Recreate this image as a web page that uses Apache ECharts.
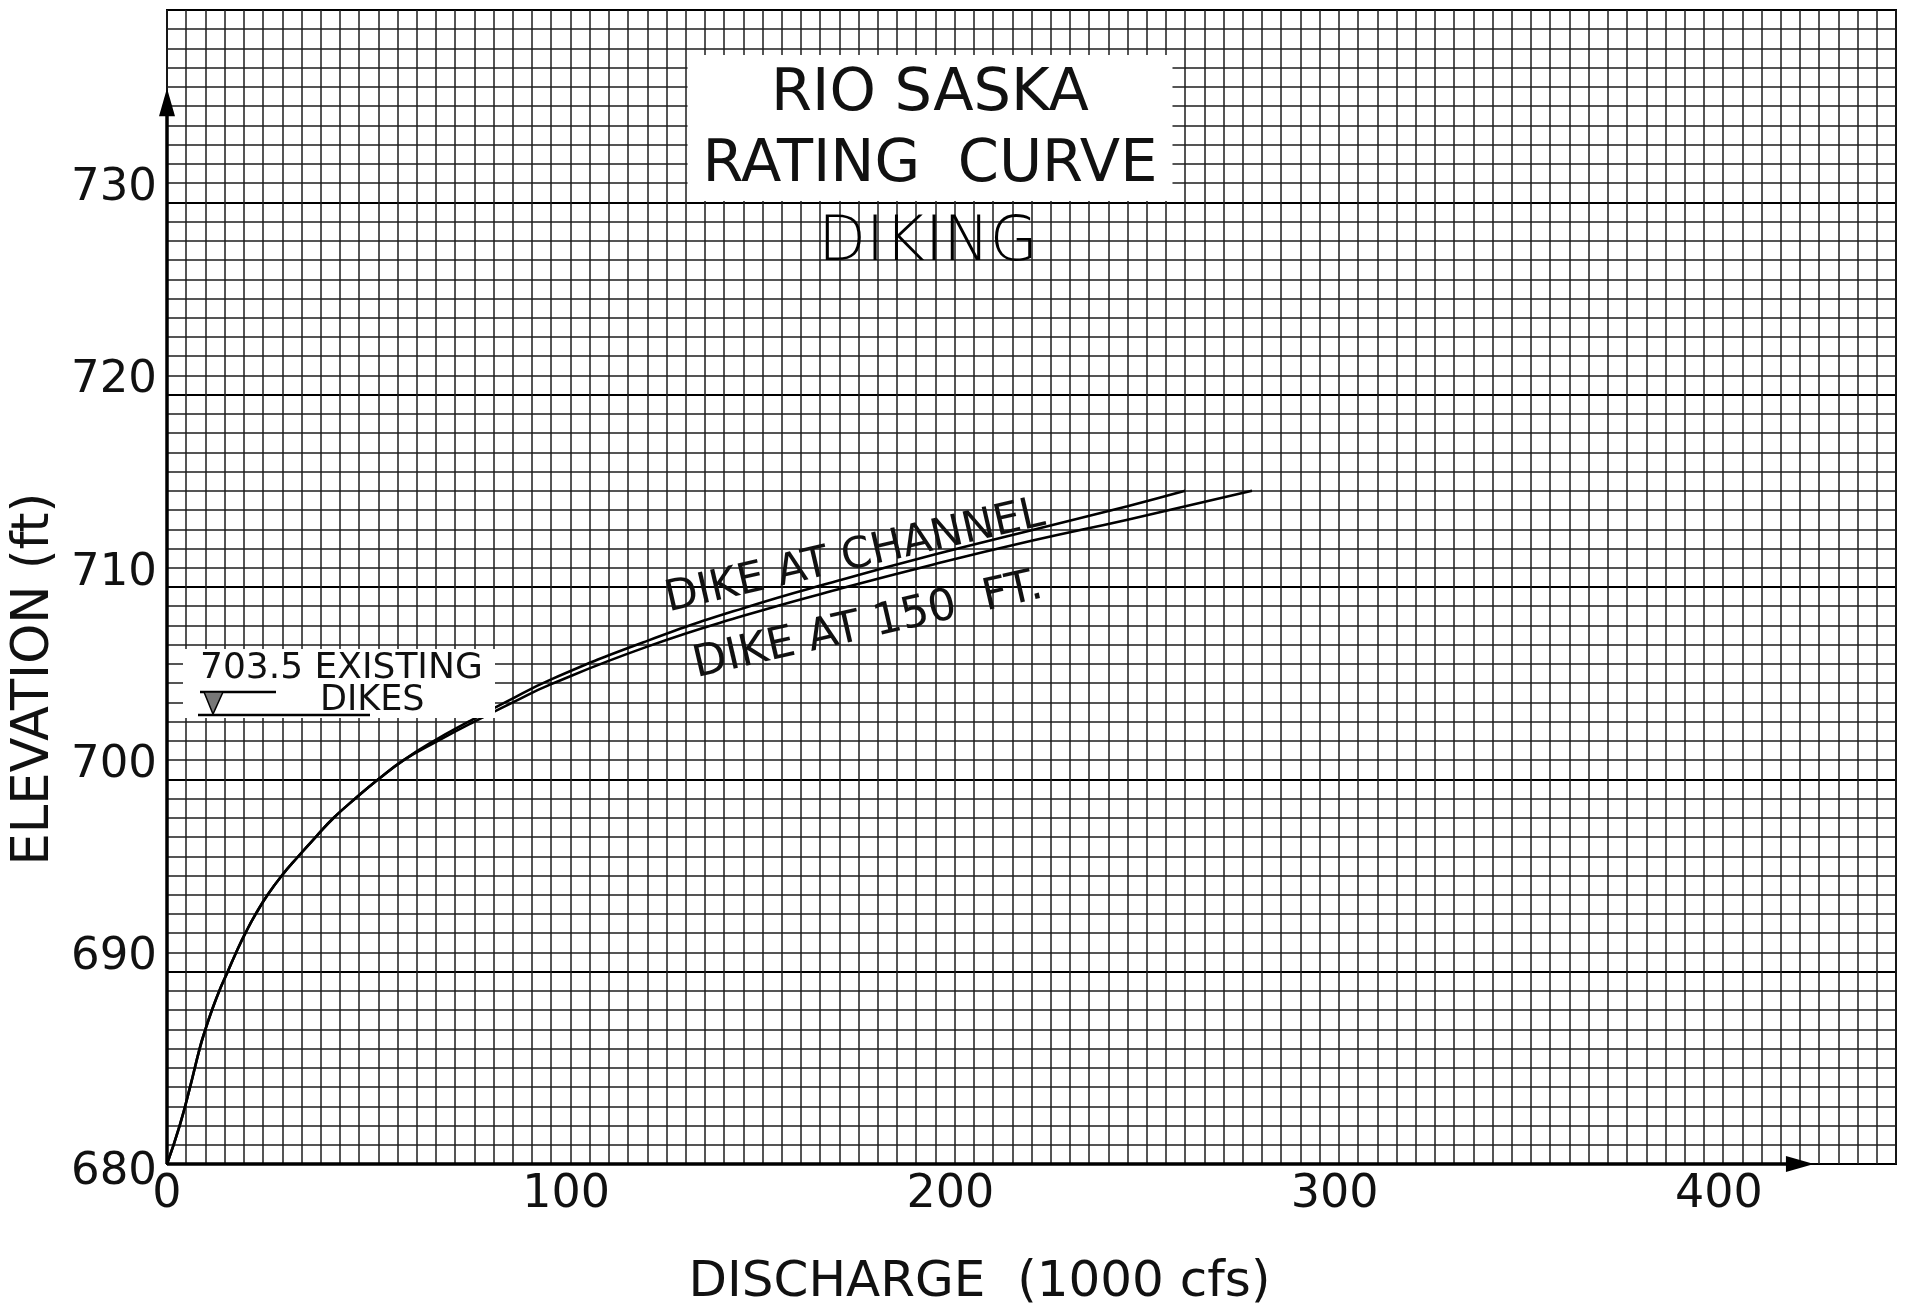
<!DOCTYPE html>
<html><head><meta charset="utf-8">
<script src="https://cdn.jsdelivr.net/npm/echarts@6/dist/echarts.min.js"></script>
<style>html,body{margin:0;padding:0;background:#fff}#c{width:1910px;height:1313px}</style>
</head><body><div id="c"></div>
<script>
// ---- data ----
// shared lower part of the rating curve (discharge in 1000 cfs, elevation in ft)
const commonDischarge = [0, 3.3, 6, 8.5, 10, 11.7, 13.6, 15.8, 18, 20.4, 23.1, 26.2, 29.9, 34.2, 38.7, 43.4, 49, 55, 61.6];
const commonElevation = [680, 682, 684, 686, 687, 688, 689, 690, 691, 692, 693, 694, 695, 696, 697, 698, 699, 700, 701];
// upper branch: DIKE AT CHANNEL
const channelDischarge = [69.5, 78.5, 88, 100, 125, 150, 175, 200, 225, 250, 265];
const channelElevation = [702, 703, 704, 705.2, 707.2, 708.9, 710.35, 711.7, 712.95, 714.2, 715];
// lower branch: DIKE AT 150 FT.
const ft150Discharge = [70.5, 80, 90, 100, 125, 150, 175, 200, 225, 250, 282.4];
const ft150Elevation = [702, 703, 704, 704.95, 706.9, 708.5, 709.9, 711.2, 712.4, 713.5, 715];
// axis ticks
const xTickLabels = [0, 100, 200, 300, 400];
const yTickLabels = [680, 690, 700, 710, 720, 730];
const existingDikeElevation = 703.5;

function pairs(xs, ys) { return xs.map((x, i) => [x, ys[i]]); }

const FONT = '"DejaVu Sans", sans-serif';
const INK = '#111';
const chart = echarts.init(document.getElementById('c'), null, { renderer: 'canvas' });

const option = {
  backgroundColor: '#fff',
  animation: false,
  title: [
    {
      text: 'RIO SASKA\nRATING  CURVE',
      left: 915, top: 55, textAlign: 'center',
      padding: [4, 15, 0, 15],
      backgroundColor: '#fff',
      textStyle: { fontFamily: FONT, fontSize: 59, fontWeight: 'normal', color: INK, lineHeight: 71 }
    },
    {
      text: 'DIKING',
      left: 928, top: 209, textAlign: 'center', padding: 0,
      textStyle: { fontFamily: FONT, fontSize: 62, fontWeight: 200, color: '#000', lineHeight: 70 }
    }
  ],
  grid: { left: 167, right: 14, top: 10, bottom: 144, show: true, borderColor: '#000', borderWidth: 2, backgroundColor: '#fff' },
  xAxis: {
    type: 'value', min: 0, max: 450, interval: 50,
    axisLine: { show: false }, axisTick: { show: false },
    axisLabel: {
      margin: 8, showMaxLabel: false,
      formatter: v => xTickLabels.indexOf(v) < 0 ? '' : (v === 0 ? '{z|0}' : '{n|' + v + '}'),
      rich: {
        z: { fontFamily: FONT, fontSize: 46, color: INK },
        n: { fontFamily: FONT, fontSize: 46, color: INK, padding: [0, 0, 0, 30] }
      }
    },
    splitLine: { show: true, lineStyle: { color: '#1e1e1e', width: 1.5 } },
    minorTick: { show: false, splitNumber: 10 },
    minorSplitLine: { show: true, lineStyle: { color: '#1e1e1e', width: 1.5 } },
    name: 'DISCHARGE  (1000 cfs)', nameLocation: 'middle', nameGap: 94,
    nameTextStyle: { fontFamily: FONT, fontSize: 50, color: INK, padding: [0, 104, 0, 0] }
  },
  yAxis: {
    type: 'value', min: 680, max: 740, interval: 10,
    axisLine: { show: false }, axisTick: { show: false },
    axisLabel: {
      margin: 10, showMaxLabel: false,
      formatter: v => yTickLabels.indexOf(v) < 0 ? '' : (v === 680 ? '{b|' + v + '}' : '{a|' + v + '}'),
      rich: {
        a: { fontFamily: FONT, fontSize: 45, color: INK, padding: [0, 0, 28, 0] },
        b: { fontFamily: FONT, fontSize: 45, color: INK, padding: [16, 0, 0, 0] }
      }
    },
    splitLine: { show: true, lineStyle: { color: '#000', width: 2.2 } },
    minorTick: { show: false, splitNumber: 10 },
    minorSplitLine: { show: true, lineStyle: { color: '#1e1e1e', width: 1.5 } },
    name: 'ELEVATION (ft)', nameLocation: 'middle', nameRotate: 90, nameGap: 104,
    nameTextStyle: { fontFamily: FONT, fontSize: 51, color: INK, padding: [0, 184, 0, 0] }
  },
  series: [
    {
      type: 'line', name: 'DIKE AT CHANNEL',
      data: pairs(commonDischarge.concat(channelDischarge), commonElevation.concat(channelElevation)),
      showSymbol: false, smooth: 0.5,
      lineStyle: { color: '#000', width: 2.6 }, z: 5,
      markLine: {
        silent: true, symbol: ['none', 'triangle'], symbolSize: [16, 28],
        lineStyle: { color: '#000', width: 3.5, type: 'solid' },
        label: { show: false },
        data: [
          [{ coord: [0, 680] }, { coord: [425, 680] }],
          [{ coord: [0, 680] }, { coord: [0, 735.2] }]
        ]
      }
    },
    {
      type: 'line', name: 'DIKE AT 150 FT.',
      data: pairs(commonDischarge.concat(ft150Discharge), commonElevation.concat(ft150Elevation)),
      showSymbol: false, smooth: 0.5,
      lineStyle: { color: '#000', width: 2.6 }, z: 5
    }
  ],
  graphic: {
    elements: [
      { type: 'rect', z: 100, shape: { x: 183, y: 649, width: 312, height: 69 }, style: { fill: '#fff' } },
      { type: 'text', z: 101, x: 200, y: 669, style: { text: existingDikeElevation.toFixed(1) + ' EXISTING', fontFamily: FONT, fontSize: 36, fill: INK, verticalAlign: 'middle' } },
      { type: 'text', z: 101, x: 320, y: 701, style: { text: 'DIKES', fontFamily: FONT, fontSize: 35, fill: INK, verticalAlign: 'middle' } },
      { type: 'line', z: 101, shape: { x1: 200, y1: 692, x2: 276, y2: 692 }, style: { stroke: '#000', lineWidth: 2.5 } },
      { type: 'polygon', z: 101, shape: { points: [[204, 692], [223, 692], [213, 714]] }, style: { fill: '#777', stroke: '#000', lineWidth: 1.5 } },
      { type: 'line', z: 101, shape: { x1: 198, y1: 715, x2: 370, y2: 715 }, style: { stroke: '#000', lineWidth: 2.5 } },
      { type: 'text', z: 101, x: 855, y: 557, rotation: 13 * Math.PI / 180, style: { text: 'DIKE AT CHANNEL', fontFamily: FONT, fontSize: 43, fill: INK, align: 'center', verticalAlign: 'middle' } },
      { type: 'text', z: 101, x: 868, y: 626, rotation: 13 * Math.PI / 180, style: { text: 'DIKE AT 150  FT.', fontFamily: FONT, fontSize: 44, fill: INK, align: 'center', verticalAlign: 'middle' } }
    ]
  }
};
chart.setOption(option);
</script>
</body></html>
